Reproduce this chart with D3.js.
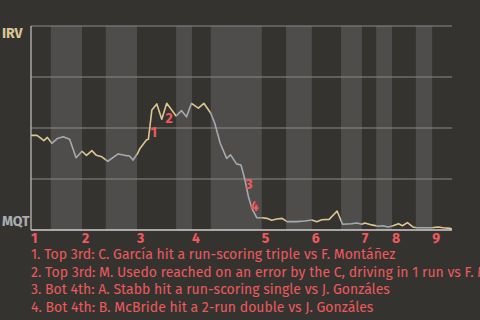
<!DOCTYPE html>
<html>
<head>
<meta charset="utf-8">
<script src="https://cdn.jsdelivr.net/npm/d3@7"></script>
<style>
  html, body { margin: 0; padding: 0; background: #353330; }
  svg { display: block; }
</style>
</head>
<body>
<div id="chart"></div>
<script>
// game progress in plays, IRV win probability
const plays = [0.0, 1.2, 2.2, 2.6, 3.3, 4.2, 5.3, 6.5, 7.8, 9.1, 10.3, 11.2, 12.3, 13.2, 14.3, 15.5,
  17.6, 18.9, 19.9, 20.6, 21.6, 22.0, 23.3, 23.7, 24.4, 25.4, 26.4, 27.4, 29.3, 30.4, 31.4, 32.4,
  33.8, 34.9, 36.3, 37.1, 38.2, 39.5, 40.3, 41.5, 42.4, 43.2, 43.9, 44.6, 45.6, 46.6, 47.6, 48.6,
  49.6, 50.7, 51.7, 53.6, 55.3, 56.7, 57.7, 58.7, 60.2, 61.8, 62.9, 64.7, 65.8, 66.8, 67.4, 68.8,
  70.1, 71.1, 72.1, 73.1, 74.2, 75.0, 76.0, 77.1, 77.9, 80.9, 82.2, 83.2, 84.6, 85.0]
const winProb = [0.464, 0.464, 0.446, 0.438, 0.454, 0.425, 0.448, 0.457, 0.445, 0.354, 0.386, 0.366,
  0.389, 0.366, 0.359, 0.337, 0.373, 0.366, 0.363, 0.343, 0.379, 0.400, 0.441, 0.445, 0.588, 0.618,
  0.543, 0.621, 0.559, 0.585, 0.555, 0.621, 0.597, 0.621, 0.572, 0.523, 0.425, 0.351, 0.368, 0.324,
  0.319, 0.245, 0.163, 0.106, 0.060, 0.060, 0.057, 0.048, 0.054, 0.057, 0.041, 0.041, 0.044, 0.049,
  0.041, 0.050, 0.052, 0.093, 0.028, 0.031, 0.034, 0.028, 0.034, 0.025, 0.018, 0.021, 0.015, 0.021,
  0.031, 0.021, 0.036, 0.015, 0.011, 0.011, 0.015, 0.011, 0.008, 0.005]

// start of each half inning (top 1st, bottom 1st, ...)
const halfStarts = [0, 4.0, 10.3, 15.1, 21.4, 29.3, 32.5, 36.3, 46.6, 51.5, 56.7, 62.6, 66.8, 69.7, 72.9, 77.7, 81.0]
const gameEnd = 85
const innings = ['1', '2', '3', '4', '5', '6', '7', '8', '9']
const gridValues = [0.25, 0.5, 0.75, 1]

// key plays: marker position (play, prob) and caption
const eventPlays = [24.8, 27.9, 44.0, 45.1]
const eventProbs = [0.456, 0.525, 0.201, 0.093]
const eventNotes = [
  '1. Top 3rd: C. García hit a run-scoring triple vs F. Montáñez',
  '2. Top 3rd: M. Usedo reached on an error by the C, driving in 1 run vs F. Montáñez',
  '3. Bot 4th: A. Stabb hit a run-scoring single vs J. Gonzáles',
  '4. Bot 4th: B. McBride hit a 2-run double vs J. Gonzáles'
]
const teams = ['IRV', 'MQT']

const width = 480
const height = 320
const margin = { left: 31, right: 28, top: 26, bottom: 90 }

const svg = d3.select('#chart').append('svg')
  .attr('width', width)
  .attr('height', height)

svg.append('rect')
  .attr('width', width)
  .attr('height', height)
  .attr('fill', '#353330')

const x = d3.scaleLinear()
  .domain([0, gameEnd])
  .range([margin.left, width - margin.right])

const y = d3.scaleLinear()
  .domain([0, 1])
  .range([height - margin.bottom, margin.top])

const halves = halfStarts.map((s, i) => ({
  start: s,
  end: i < halfStarts.length - 1 ? halfStarts[i + 1] : gameEnd,
  top: i % 2 === 0
}))

// bands for bottom halves
svg.append('g')
  .selectAll('rect')
  .data(halves.filter(d => !d.top))
  .enter()
  .append('rect')
  .attr('x', d => x(d.start))
  .attr('y', y(1))
  .attr('width', d => x(d.end) - x(d.start))
  .attr('height', y(0) - y(1))
  .attr('fill', '#4e4d4b')

// grid
svg.append('g')
  .selectAll('line')
  .data(gridValues)
  .enter()
  .append('line')
  .attr('x1', x(0))
  .attr('x2', x(gameEnd))
  .attr('y1', d => y(d))
  .attr('y2', d => y(d))
  .attr('stroke', '#8b8a88')
  .attr('stroke-width', 1.2)

// clip paths so line colour follows the half inning
const defs = svg.append('defs')
;['top', 'bot'].forEach(function(name) {
  defs.append('clipPath')
    .attr('id', 'clip-' + name)
    .selectAll('rect')
    .data(halves.filter(d => d.top === (name === 'top')))
    .enter()
    .append('rect')
    .attr('x', d => x(d.start))
    .attr('y', 0)
    .attr('width', d => x(d.end) - x(d.start))
    .attr('height', height)
})

const points = plays.map((p, i) => [p, winProb[i]])
const line = d3.line()
  .x(d => x(d[0]))
  .y(d => y(d[1]))

svg.append('path')
  .datum(points)
  .attr('d', line)
  .attr('fill', 'none')
  .attr('stroke', '#ddc58e')
  .attr('stroke-width', 1.6)
  .attr('stroke-linejoin', 'round')
  .attr('clip-path', 'url(#clip-top)')

svg.append('path')
  .datum(points)
  .attr('d', line)
  .attr('fill', 'none')
  .attr('stroke', '#a4aaaf')
  .attr('stroke-width', 1.6)
  .attr('stroke-linejoin', 'round')
  .attr('clip-path', 'url(#clip-bot)')

// axes lines
svg.append('line')
  .attr('x1', x(0))
  .attr('x2', x(0))
  .attr('y1', y(1))
  .attr('y2', y(0))
  .attr('stroke', '#c4c4c2')
  .attr('stroke-width', 1.2)

svg.append('line')
  .attr('x1', x(0))
  .attr('x2', x(gameEnd))
  .attr('y1', y(0))
  .attr('y2', y(0))
  .attr('stroke', '#cfcfcd')
  .attr('stroke-width', 1.6)

const font = "'Fira Sans', Lato, 'Open Sans', sans-serif"

// team labels
svg.append('text')
  .attr('x', 2)
  .attr('y', y(1) + 12)
  .attr('fill', '#dcc693')
  .attr('font-size', 14)
  .attr('font-weight', 'bold')
  .style('font-family', font)
  .text(teams[0])

svg.append('text')
  .attr('x', 2)
  .attr('y', y(0) - 4)
  .attr('fill', '#a7adb2')
  .attr('font-size', 14)
  .attr('font-weight', 'bold')
  .style('font-family', font)
  .text(teams[1])

// inning numbers
svg.append('g')
  .selectAll('text')
  .data(innings)
  .enter()
  .append('text')
  .attr('x', (d, i) => x(halfStarts[i * 2]))
  .attr('y', y(0) + 13)
  .attr('fill', '#f05a5c')
  .attr('font-size', 14)
  .attr('font-weight', 'bold')
  .style('font-family', font)
  .text(d => d)

// event markers
svg.append('g')
  .selectAll('text')
  .data(eventPlays)
  .enter()
  .append('text')
  .attr('x', d => x(d))
  .attr('y', (d, i) => y(eventProbs[i]))
  .attr('text-anchor', 'middle')
  .attr('fill', '#f05a5c')
  .attr('font-size', 14)
  .attr('font-weight', 'bold')
  .style('font-family', font)
  .text((d, i) => i + 1)

// captions
svg.append('g')
  .selectAll('text')
  .data(eventNotes)
  .enter()
  .append('text')
  .attr('x', 31)
  .attr('y', (d, i) => 259 + i * 17.6)
  .attr('fill', '#ec5a5c')
  .attr('font-size', 14)
  .style('font-family', font)
  .text(d => d)
</script>
</body>
</html>
